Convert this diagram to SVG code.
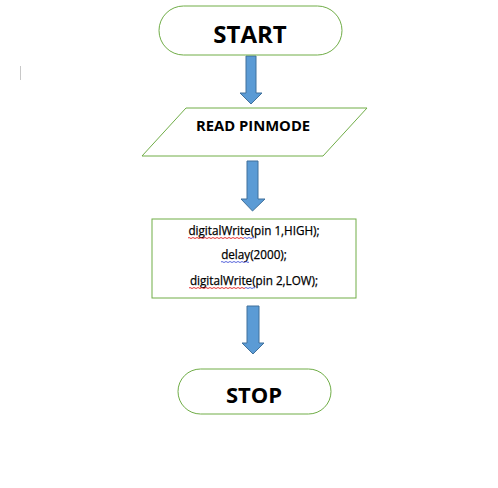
<svg xmlns="http://www.w3.org/2000/svg" width="498" height="488" viewBox="0 0 498 488">
<style>
.term{fill:#fff;stroke:#70AD47;stroke-width:1}
.box{fill:#fff;stroke:#70AD47;stroke-width:1}
.arrow{fill:#5B9BD5;stroke:#41719C;stroke-width:1}
.big{font-family:"Open Sans","Liberation Sans",sans-serif;font-weight:bold;fill:#000;text-anchor:middle}
.code{font-family:"Open Sans","Liberation Sans",sans-serif;font-size:11.7px;fill:#000;text-anchor:middle;stroke:#000;stroke-width:0.25}
.red{fill:none;stroke:#E00000;stroke-width:0.8}
.blue{fill:none;stroke:#2F3FD0;stroke-width:0.8}
</style>
<rect width="498" height="488" fill="#fff"/>
<line x1="20.5" y1="66" x2="20.5" y2="80" stroke="#C8C8C8" stroke-width="1"/>
<g id="connectors">
<path class="arrow" d="M246,56 H256 V93 H262 L251,104 L240,93 H246 Z"/>
<path class="arrow" d="M247,161 H258 V199 H265 L252.5,211 L241,199 H247 Z"/>
<path class="arrow" d="M247,306 H259 V343 H264 L253,354 L242,343 H247 Z"/>
</g>
<g id="start">
<rect class="term" x="159" y="6" width="183" height="49" rx="24.5"/>
<text class="big" x="250" y="43" font-size="24">START</text>
</g>
<g id="read">
<polygon class="box" points="186,108 367,108 323,156 142,156"/>
<text class="big" x="253" y="131" font-size="14.8">READ PINMODE</text>
</g>
<g id="process">
<rect class="box" x="152" y="219" width="204" height="79"/>
<text class="code" x="254" y="235">digitalWrite(pin 1,HIGH);</text>
<text class="code" x="254" y="259">delay(2000);</text>
<text class="code" x="254" y="285">digitalWrite(pin 2,LOW);</text>
<path class="red" d="M188,238 q1,-1 2,0 t2,0 t2,0 t2,0 t2,0 t2,0 t2,0 t2,0 t2,0 t2,0 t2,0 t2,0 t2,0 t2,0 t2,0 t2,0 t2,0 t2,0 t2,0 t2,0 t2,0 t2,0 t2,0 t2,0 t2,0 t2,0 t2,0 t2,0"/>
<path class="blue" d="M244,238 q1,-1 2,0 t2,0 t2,0 t2,0 t2,0"/>
<path class="blue" d="M221,262 q1,-1 2,0 t2,0 t2,0 t2,0 t2,0 t2,0 t2,0 t2,0 t2,0 t2,0 t2,0 t2,0 t2,0 t2,0"/>
<path class="red" d="M189,288 q1,-1 2,0 t2,0 t2,0 t2,0 t2,0 t2,0 t2,0 t2,0 t2,0 t2,0 t2,0 t2,0 t2,0 t2,0 t2,0 t2,0 t2,0 t2,0 t2,0 t2,0 t2,0 t2,0 t2,0 t2,0 t2,0 t2,0 t2,0 t2,0"/>
<path class="blue" d="M245,288 q1,-1 2,0 t2,0 t2,0 t2,0 t2,0"/>
</g>
<g id="stop">
<rect class="term" x="178" y="369" width="153" height="45" rx="22.5"/>
<text class="big" x="254" y="403" font-size="22">STOP</text>
</g>
</svg>
